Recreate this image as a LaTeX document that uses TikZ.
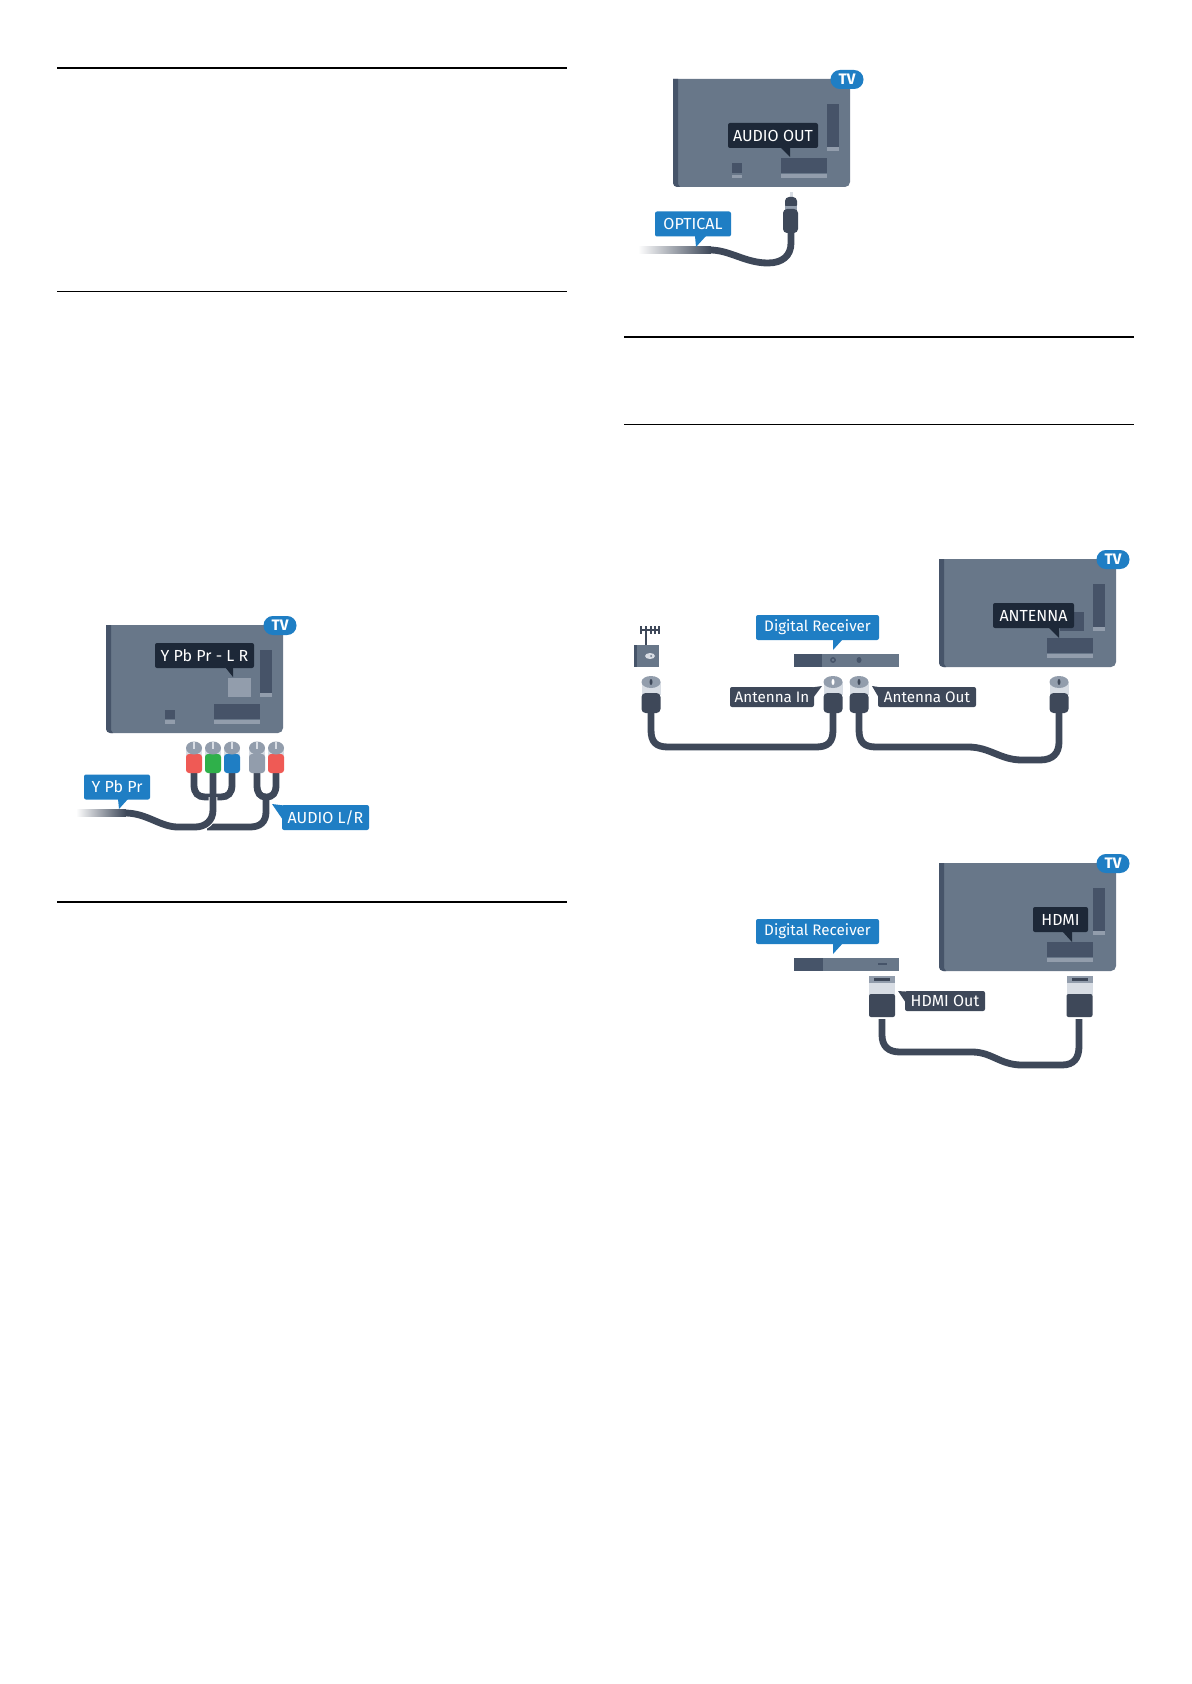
\documentclass[tikz,border=0pt]{standalone}
\usepackage{fontspec}
\setmainfont{Fira Sans}
\usetikzlibrary{positioning}
\definecolor{tvgray}{HTML}{687789}
\definecolor{tvdark}{HTML}{465469}
\definecolor{portdark}{HTML}{465368}
\definecolor{portlight}{HTML}{929DAC}
\definecolor{cablegray}{HTML}{3E4859}
\definecolor{tagdark}{HTML}{1D2838}
\definecolor{tagblue}{HTML}{1F7EC4}
\definecolor{bandwhite}{HTML}{D8DDE4}
\definecolor{plugred}{HTML}{EF5A55}
\definecolor{pluggreen}{HTML}{2FB04A}
\definecolor{plugblue}{HTML}{1F7EC4}
\tikzset{
	cablewire/.style={draw=cablegray,line width=3.4pt},
	cablecase/.style={draw=white,line width=4.4pt},
	headrule/.style={draw=black,line width=1pt},
	thinrule/.style={draw=black,line width=0.5pt},
	tagbase/.style={rectangle,rounded corners=1pt,inner sep=0pt,text=white,font=\fontsize{7.6}{9}\selectfont},
	widetag/.style={font=\fontsize{8}{9}\selectfont},
	darktag/.style={tagbase,fill=tagdark,minimum height=12.5pt},
	bluetag/.style={tagbase,fill=tagblue,minimum height=12.5pt},
	greytag/.style={tagbase,fill=cablegray,minimum height=10pt},
	tvbadge/.style={rectangle,rounded corners=4.7pt,fill=tagblue,text=white,inner sep=0pt,
		minimum width=16.5pt,minimum height=9.5pt,font=\fontsize{7.6}{9}\selectfont\bfseries}
}
% tv: name, left, top
\newcommand{\tvset}[3]{
	\begin{scope}[shift={(#2,#3)}]
		\fill[tvgray] (0,0) -- (177,0) [rounded corners=2.5pt] -- (177,108) -- (0,108) [sharp corners] -- cycle;
		\fill[tvdark] (0,0) -- (5,0) -- (5,105) -- (7,108) [rounded corners=2pt] -- (0,108) [sharp corners] -- cycle;
		\fill[portdark] (154,25) rectangle (166,68);
		\fill[portlight] (154,68) rectangle (166,72);
		\fill[portdark] (108,79) rectangle (154,94);
		\fill[portlight] (108,95) rectangle (154,99);
		\node[tvbadge] (#1) at (174,0.5) {TV};
	\end{scope}
}
\newcommand{\rcaplug}[2]{
	\fill[bandwhite] (#1-8,748) rectangle (#1+8,756);
	\fill[#2,rounded corners=1.5pt] (#1-8,754) rectangle (#1+8,773);
	\fill[portlight] (#1,748) ellipse [x radius=8,y radius=6.5];
	\fill[bandwhite] (#1-1,742) rectangle (#1+1,749);
}
\newcommand{\antplug}[2]{
	\fill[bandwhite] (#1-9.5,682) rectangle (#1+9.5,695);
	\fill[cablegray,rounded corners=2pt] (#1-9.5,693) rectangle (#1+9.5,713);
	\fill[portlight] (#1,682) ellipse [x radius=9.5,y radius=6];
	\fill[#2] (#1,682) ellipse [x radius=1.5,y radius=3];
}
\newcommand{\hdmiplug}[1]{
	\fill[bandwhite] (#1-13,976) rectangle (#1+13,995);
	\fill[portlight] (#1-13,976) rectangle (#1+13,983);
	\fill[cablegray] (#1-8,978) rectangle (#1+8,981);
	\fill[cablegray,rounded corners=1pt] (#1-13,994) rectangle (#1+13,1017);
}
\begin{document}
\begin{tikzpicture}[x=0.5pt,y=-0.5pt]
	\path[fill=white,use as bounding box] (0,0) rectangle (1191,1684);

	\draw[headrule] (57,68) -- (567,68);
	\draw[thinrule] (57,292) -- (567,292);
	\draw[headrule] (57,902) -- (567,902);
	\draw[headrule] (624,337) -- (1134,337);
	\draw[thinrule] (624,425) -- (1134,425);

	% component
	\tvset{tvComponent}{106}{625}
	\fill[portlight] (228,678) rectangle (251,697);
	\fill[portdark] (165,710) rectangle (175,719);
	\fill[portlight] (165,720) rectangle (175,724);
	\coordinate (ypbStem) at (213,773);
	\coordinate (audioL) at (257,773);
	\coordinate (audioR) at (276,773);
	\coordinate (audioEnd) at (207,827);
	\coordinate (ypbFade) at (125,813);
	\draw[cablewire] (audioL) -- (257,785) .. controls (257,793) and (260,797) .. (266,797) .. controls (273,797) and (276,793) .. (276,785) -- (audioR);
	\draw[cablewire] (266,796) -- (266,812) .. controls (266,822) and (260,827) .. (250,827) -- (audioEnd);
	\draw[cablewire] (194,773) -- (194,785) .. controls (194,793) and (198,797) .. (205,797) -- (221,797) .. controls (228,797) and (232,793) .. (232,785) -- (232,773);
	\draw[cablecase] (213,797) -- (213,810) .. controls (213,821) and (205,827) .. (195,827) -- (180,827);
	\draw[cablewire] (ypbStem) -- (213,810) .. controls (213,821) and (205,827) .. (195,827) -- (178,827) .. controls (160,827) and (147,813) .. (ypbFade);
	\shade[left color=white,right color=cablegray] (76,809.6) rectangle (126,816.4);
	\rcaplug{194}{plugred}
	\rcaplug{213}{pluggreen}
	\rcaplug{232}{plugblue}
	\rcaplug{257}{portlight}
	\rcaplug{276}{plugred}

	% optical
	\tvset{tvOptical}{673}{79}
	\fill[portdark] (732,163) rectangle (742,173);
	\fill[portlight] (732,175) rectangle (742,178);
	\coordinate (opticalPlug) at (791,232);
	\coordinate (opticalFade) at (710,250);
	\draw[cablewire] (opticalPlug) -- (791,243) .. controls (791,256) and (782,263) .. (768,263) .. controls (745,263) and (730,250) .. (opticalFade);
	\shade[left color=white,right color=cablegray] (638,246.6) rectangle (711,253.4);
	\fill[bandwhite] (789.5,192) rectangle (792.5,200);
	\fill[cablegray,rounded corners=2pt] (785,197) rectangle (797,209);
	\fill[portlight] (785,206) rectangle (797,210);
	\fill[cablegray,rounded corners=2pt] (783,209) rectangle (798,233);

	% antenna
	\tvset{tvAntenna}{939}{559}
	\fill[portdark] (1060,612) rectangle (1084,631);
	\foreach \tickx in {641,646,651,655,659}
		\draw[cablegray,line width=0.6pt] (\tickx,626) -- (\tickx,634);
	\draw[cablegray,line width=0.6pt] (640,630) -- (659,630);
	\draw[cablegray,line width=0.6pt] (646,630) -- (646,645);
	\fill[tvgray] (634,645) rectangle (659,667);
	\fill[tvdark] (634,645) rectangle (637,667);
	\fill[bandwhite] (650,656) ellipse [x radius=5,y radius=3];
	\fill[tvgray] (651,656) circle [radius=1];
	\fill[tvgray] (794,654) rectangle (899,667);
	\fill[tvdark] (794,654) rectangle (822,667);
	\draw[tvdark,line width=0.7pt] (833,660) circle [radius=2.2];
	\fill[tvdark] (859,660) ellipse [x radius=2.5,y radius=3];
	\coordinate (plugAntennaA) at (651,713);
	\coordinate (plugAntennaB) at (833,713);
	\coordinate (plugAntennaC) at (859,713);
	\coordinate (plugAntennaD) at (1059,713);
	\draw[cablewire] (plugAntennaA) -- (651,730) .. controls (651,742) and (656,747) .. (668,747) -- (816,747) .. controls (828,747) and (833,742) .. (833,730) -- (plugAntennaB);
	\draw[cablewire] (plugAntennaC) -- (859,730) .. controls (859,742) and (864,747) .. (876,747) -- (968,747) .. controls (990,747) and (1000,760) .. (1022,760) -- (1040,760) .. controls (1053,760) and (1059,753) .. (1059,742) -- (plugAntennaD);
	\antplug{651}{cablegray}
	\antplug{833}{white}
	\antplug{859}{cablegray}
	\antplug{1059}{cablegray}

	% hdmi
	\tvset{tvHdmi}{939}{863}
	\fill[tvgray] (794,958) rectangle (899,971);
	\fill[tvdark] (794,958) rectangle (823,971);
	\fill[tvdark] (878,963) rectangle (887,965);
	\coordinate (plugHdmiA) at (882,1019);
	\coordinate (plugHdmiB) at (1079,1019);
	\draw[cablewire] (plugHdmiA) -- (882,1035) .. controls (882,1046) and (888,1052) .. (900,1052) -- (972,1052) .. controls (992,1052) and (1000,1065) .. (1022,1065) -- (1062,1065) .. controls (1074,1065) and (1079,1058) .. (1079,1046) -- (plugHdmiB);
	\hdmiplug{882}
	\hdmiplug{1079.5}

	% callout pointers
	\fill[tagdark] (225,667) -- (233,677) -- (233,667) -- cycle;
	\fill[tagdark] (780,147) -- (790,157) -- (790,147) -- cycle;
	\fill[tagdark] (1048,627) -- (1059,638) -- (1059,627) -- cycle;
	\fill[tagdark] (1062,931) -- (1072,942) -- (1072,931) -- cycle;
	\fill[tagblue] (118,799) -- (119,809) -- (128,799) -- cycle;
	\fill[tagblue] (283,820) -- (272,804) -- (288,806) -- cycle;
	\fill[tagblue] (695,236) -- (696,247) -- (706,236) -- cycle;
	\fill[tagblue] (833,639) -- (833,650) -- (843,639) -- cycle;
	\fill[tagblue] (833,943) -- (833,954) -- (843,943) -- cycle;
	\fill[cablegray] (813,698) -- (822,686) -- (808,688) -- cycle;
	\fill[cablegray] (879,698) -- (872,686) -- (885,688) -- cycle;
	\fill[cablegray] (906,1003) -- (898,991) -- (912,992) -- cycle;

	\begin{scope}[every node/.style={darktag}]
		\node[widetag,minimum width=49.5pt] (tagComponentTv) at (204.5,655.5) {Y Pb Pr - L R};
		\node[widetag,minimum width=45pt] (tagAudioOut) at (773,135.5) {AUDIO OUT};
		\node[widetag,minimum width=40.5pt] (tagAntenna) at (1033.5,615.5) {ANTENNA};
		\node[widetag,minimum width=27.5pt] (tagHdmi) at (1060.5,919.5) {HDMI};
	\end{scope}
	\begin{scope}[every node/.style={bluetag}]
		\node[widetag,minimum width=33pt] (tagComponent) at (117,787) {Y Pb Pr};
		\node[widetag,minimum width=43.5pt] (tagAudioLR) at (325.5,817.5) {AUDIO L/R};
		\node[widetag,minimum width=38pt] (tagOptical) at (693,224) {OPTICAL};
		\node[minimum width=61.5pt] (tagReceiverA) at (817.5,627.5) {Digital Receiver};
		\node[minimum width=61.5pt] (tagReceiverB) at (817.5,931.5) {Digital Receiver};
	\end{scope}
	\begin{scope}[every node/.style={greytag}]
		\node[minimum width=42pt] (tagAntennaIn) at (772,697) {Antenna In};
		\node[minimum width=49pt] (tagAntennaOut) at (927,697) {Antenna Out};
		\node[widetag,minimum width=40pt] (tagHdmiOut) at (945,1001) {HDMI Out};
	\end{scope}
\end{tikzpicture}
\end{document}
